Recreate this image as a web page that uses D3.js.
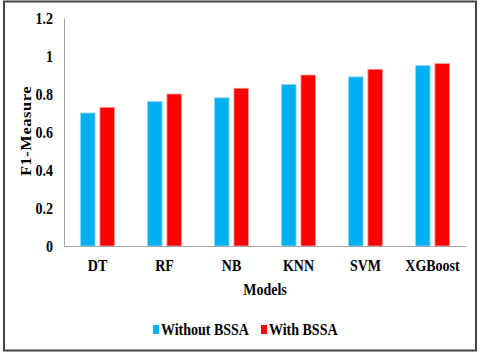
<!DOCTYPE html>
<html>
<head>
<meta charset="utf-8">
<script src="https://cdn.jsdelivr.net/npm/d3@7"></script>
<style>
  body { margin: 0; background: #fff; }
  text { font-family: "Liberation Serif", "Times New Roman", serif; font-weight: bold; fill: #000; }
</style>
</head>
<body>
<div id="chart"></div>
<script>
// chart data
const models = ["DT", "RF", "NB", "KNN", "SVM", "XGBoost"];
const seriesNames = ["Without BSSA", "With BSSA"];
const withoutBSSA = [0.70, 0.76, 0.78, 0.85, 0.89, 0.95];
const withBSSA = [0.73, 0.80, 0.83, 0.90, 0.93, 0.96];
const yTicks = [0, 0.2, 0.4, 0.6, 0.8, 1, 1.2];
const colors = ["#00B0F0", "#FF0000"];

const W = 480, H = 353;
const margin = {top: 18, right: 14, bottom: 107, left: 64};
const stretch = 1.17;   // source picture text looks squeezed wide -> tall

const svg = d3.select("#chart").append("svg")
    .attr("width", W)
    .attr("height", H);

// outer frame
svg.append("rect")
    .attr("x", 4).attr("y", 1.5)
    .attr("width", 472).attr("height", 349)
    .attr("fill", "none")
    .attr("stroke", "#444")
    .attr("stroke-width", 2);

const x0 = d3.scaleBand()
    .domain(models)
    .range([margin.left, W - margin.right])
    .padding(0);

const x1 = d3.scaleBand()
    .domain(seriesNames)
    .range([0, 34])
    .paddingInner(0.25);

const y = d3.scaleLinear()
    .domain([0, 1.2])
    .range([H - margin.bottom, margin.top]);

const rows = models.map((m, i) => ({model: m, values: [withoutBSSA[i], withBSSA[i]]}));

// vertically stretch a text around its own middle
function tall(sel) {
    sel.each(function () {
        const b = this.getBBox();
        const cy = b.y + b.height / 2;
        const t = d3.select(this);
        const old = t.attr("transform") || "";
        t.attr("transform", `translate(0,${cy}) scale(1,${stretch}) translate(0,${-cy}) ${old}`);
    });
}

// bars
const groups = svg.append("g").selectAll("g")
    .data(rows)
    .enter().append("g")
    .attr("transform", d => `translate(${x0(d.model) + x0.bandwidth() / 2 - 17},0)`);

groups.selectAll("rect")
    .data(d => d.values.map((v, k) => ({name: seriesNames[k], value: v, k: k})))
    .enter().append("rect")
    .attr("x", d => x1(d.name))
    .attr("y", d => y(d.value))
    .attr("width", x1.bandwidth())
    .attr("height", d => y(0) - y(d.value))
    .attr("fill", d => colors[d.k])
    .attr("stroke", d => d.k === 0 ? "#8fdcf8" : "#ff9a9a")
    .attr("stroke-width", 0.8);

// y axis
const yAxis = svg.append("g")
    .attr("transform", `translate(${margin.left},0)`)
    .call(d3.axisLeft(y).tickValues(yTicks).tickSize(0).tickPadding(11).tickFormat(d3.format("~g")));
yAxis.select(".domain").attr("stroke", "#a6a6a6");
yAxis.selectAll("text").style("font-size", "14px").call(tall);

// x axis
const xAxis = svg.append("g")
    .attr("transform", `translate(0,${y(0)})`)
    .call(d3.axisBottom(x0).tickSize(0).tickPadding(14));
xAxis.select(".domain").attr("stroke", "#a6a6a6");
xAxis.selectAll("text").style("font-size", "14px").call(tall);

// axis titles (rotated, so stretch along its length)
const cyT = (y(0) + y(1.2)) / 2 - 1;
svg.append("text")
    .attr("transform", `translate(31,${cyT}) rotate(-90) scale(${stretch},1)`)
    .attr("text-anchor", "middle")
    .style("font-size", "14px")
    .style("letter-spacing", "0.5px")
    .text("F1-Measure");

svg.append("text")
    .attr("x", (margin.left + W - margin.right) / 2)
    .attr("y", 294)
    .attr("text-anchor", "middle")
    .style("font-size", "14px")
    .text("Models")
    .call(tall);

// legend
const legend = svg.append("g");
const legendX = [153, 261];
seriesNames.forEach((s, k) => {
    const g = legend.append("g").attr("transform", `translate(${legendX[k]},334)`);
    g.append("rect")
        .attr("width", 6).attr("height", 9)
        .attr("y", -9)
        .attr("fill", colors[k]);
    g.append("text")
        .attr("x", 8)
        .attr("y", 0)
        .style("font-size", "14px")
        .text(s)
        .call(tall);
});
</script>
</body>
</html>
